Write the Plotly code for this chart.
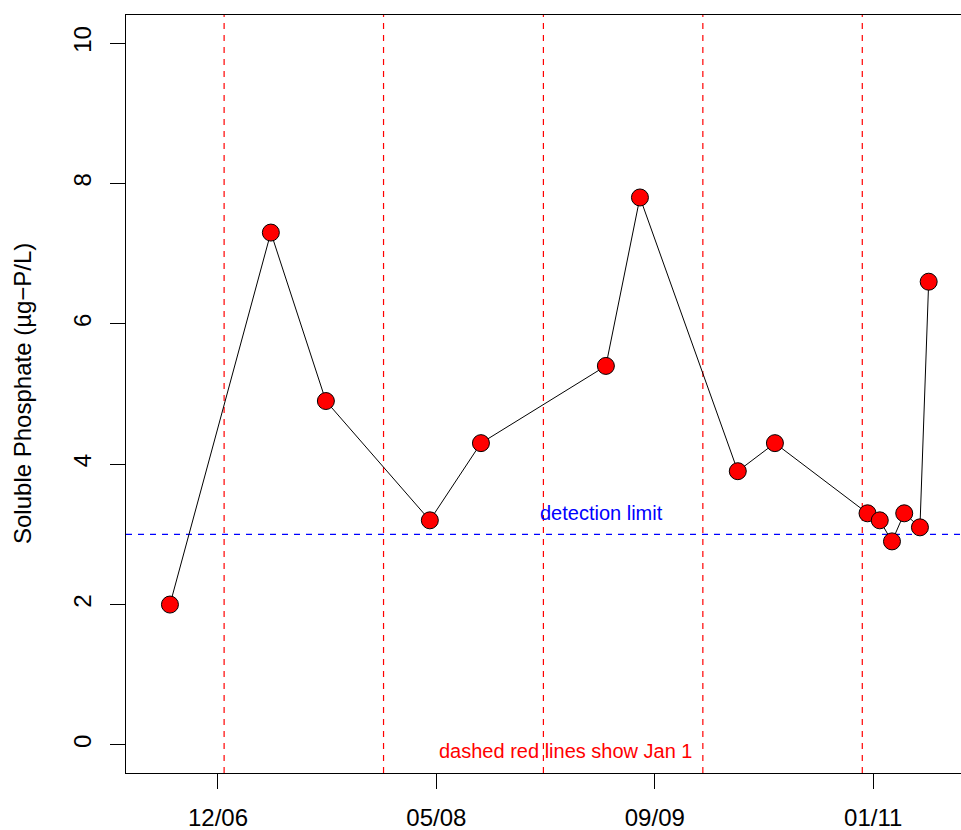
import plotly.graph_objects as go

# ---- data ----
sample_dates = ["2006-08-30", "2007-04-18", "2007-08-22", "2008-04-16", "2008-08-11",
                "2009-05-24", "2009-08-10", "2010-03-22", "2010-06-15", "2011-01-13",
                "2011-02-10", "2011-03-10", "2011-04-07", "2011-05-13", "2011-06-02"]
phosphate = [2.0, 7.3, 4.9, 3.2, 4.3, 5.4, 7.8, 3.9, 4.3, 3.3, 3.2, 2.9, 3.3, 3.1, 6.6]

jan1_dates = ["2007-01-01", "2008-01-01", "2009-01-01", "2010-01-01", "2011-01-01"]
detection_limit = 3.0

x_tick_vals = ["2006-12-18", "2008-05-01", "2009-09-13", "2011-01-26"]
x_tick_text = ["12/06", "05/08", "09/09", "01/11"]
y_tick_vals = [0, 2, 4, 6, 8, 10]

y_title = "Soluble Phosphate (µg−P/L)"
detection_text = "detection limit"
detection_text_pos = ("2009-05-14", 3.31)
jan_text = "dashed red lines show Jan 1"
jan_text_pos = ("2009-02-21", -0.08)

FONT = "Arial, 'Liberation Sans', sans-serif"

fig = go.Figure()

fig.add_trace(go.Scatter(
    x=sample_dates, y=phosphate, mode="lines+markers",
    line=dict(color="black", width=1),
    marker=dict(size=17, color="red", line=dict(color="black", width=1)),
    showlegend=False, cliponaxis=False, hoverinfo="skip",
))

shapes = []
for d in jan1_dates:
    shapes.append(dict(type="line", xref="x", yref="paper", x0=d, x1=d, y0=0, y1=1,
                       line=dict(color="red", width=1.2, dash="6px,6px"), layer="below"))
shapes.append(dict(type="line", xref="paper", yref="y", x0=0, x1=1,
                   y0=detection_limit, y1=detection_limit,
                   line=dict(color="blue", width=1.2, dash="6px,6px"), layer="below"))

annotations = [
    dict(x=detection_text_pos[0], y=detection_text_pos[1], xref="x", yref="y",
         text=detection_text, showarrow=False, xanchor="center", yanchor="middle",
         font=dict(color="blue", size=20, family=FONT)),
    dict(x=jan_text_pos[0], y=jan_text_pos[1], xref="x", yref="y",
         text=jan_text, showarrow=False, xanchor="center", yanchor="middle",
         font=dict(color="red", size=20, family=FONT)),
    dict(x=-104 / 835, y=0.5, xref="paper", yref="paper", text=y_title,
         showarrow=False, textangle=-90, xanchor="center", yanchor="middle",
         font=dict(color="black", size=24, family=FONT)),
]

fig.update_layout(
    width=961, height=830,
    margin=dict(l=126, r=0, t=15, b=57, pad=0, autoexpand=False),
    paper_bgcolor="white", plot_bgcolor="white",
    font=dict(family=FONT, size=24, color="black"),
    shapes=shapes, annotations=annotations,
    xaxis=dict(
        type="date", range=["2006-05-21 09:36", "2011-08-15"],
        tickmode="array", tickvals=x_tick_vals, ticktext=x_tick_text,
        showgrid=False, zeroline=False, automargin=False,
        showline=True, linecolor="black", linewidth=1, mirror=True,
        ticks="outside", ticklen=15, tickwidth=1, tickcolor="black",
        ticklabelstandoff=8,
        tickfont=dict(size=24, family=FONT, color="black"),
    ),
    yaxis=dict(
        range=[-0.4, 10.4], tickmode="array", tickvals=y_tick_vals,
        showgrid=False, zeroline=False, automargin=False,
        showline=True, linecolor="black", linewidth=1,
        ticks="outside", ticklen=15, tickwidth=1, tickcolor="black",
        tickangle=-90, ticklabelstandoff=9,
        tickfont=dict(size=24, family=FONT, color="black"),
    ),
)

fig.write_html("out.html", config={"displayModeBar": False},
               post_script="document.body.style.margin='0';document.body.style.padding='0';")
